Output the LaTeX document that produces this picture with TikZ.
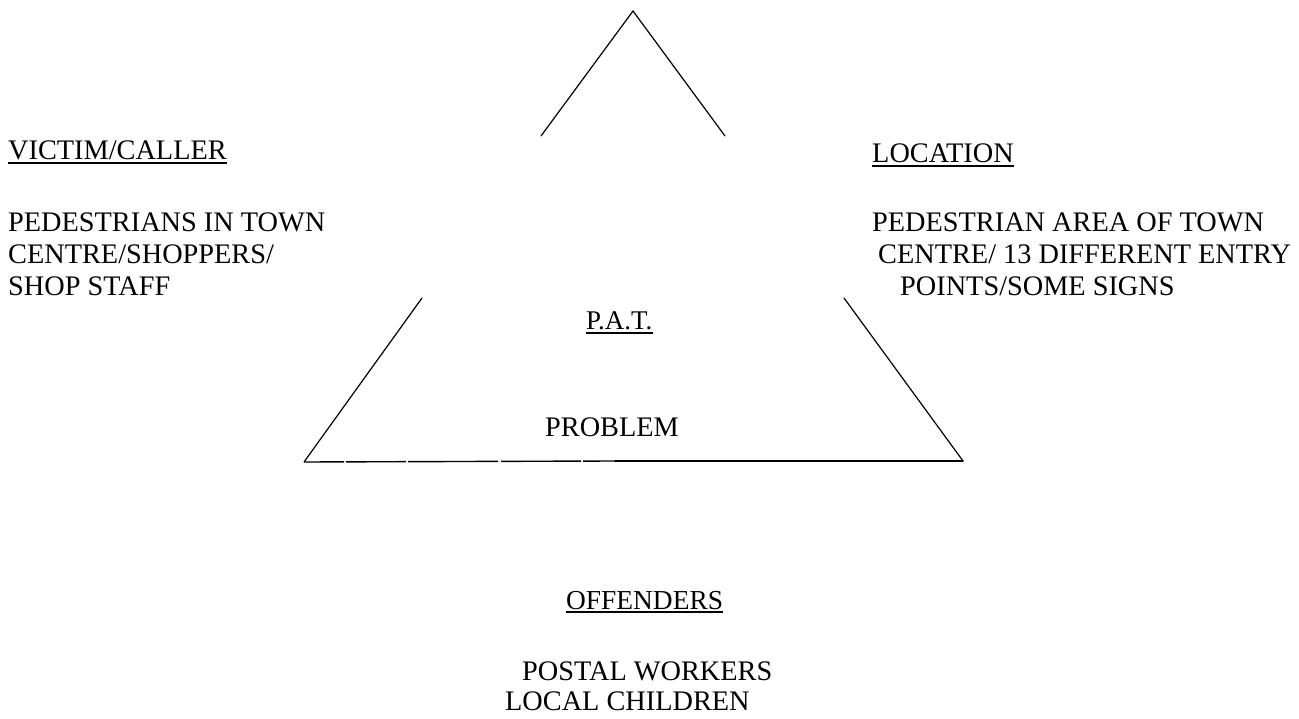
\documentclass[tikz,border=0pt]{standalone}
\usepackage{fontspec}
\setmainfont{Liberation Serif}
\begin{document}
\begin{tikzpicture}[x=1pt,y=-1pt,
  txt/.style={anchor=base west,inner sep=0pt,font=\fontsize{28.3}{32}\selectfont},
  ttl/.style={txt},
  uline/.style={line width=1.6pt},
  tri/.style={line width=1.2pt,line cap=round}]
\useasboundingbox (0,0) rectangle (1299,719);
% triangle (broken sides)
\coordinate (apex) at (633,11);
\coordinate (ul) at (541,136);
\coordinate (ur) at (725,136);
\coordinate (ll) at (422,298);
\coordinate (lr) at (844,298);
\coordinate (bl) at (304,462);
\coordinate (br) at (963,461);
\coordinate (bm) at (615,461);
\draw[tri] (ul) -- (apex) -- (ur);
\draw[tri] (ll) -- (bl);
\draw[tri] (lr) -- (br);
\draw[tri,line width=1.5pt] (bm) -- (br);
\draw[line width=1.4pt,dash pattern=on 40pt off 2pt on 60pt off 2pt on 90pt off 3pt on 80pt off 2pt] (bl) -- (bm);
% left
\node[ttl] (vc) at (8,160) {VICTIM/CALLER};
\draw[uline] ([yshift=-3pt]vc.base west) -- ([yshift=-3pt]vc.base east);
\node[txt] (v1) at (8,232) {PEDESTRIANS IN TOWN};
\node[txt] (v2) at (8,264) {CENTRE/SHOPPERS/};
\node[txt] (v3) at (8,296) {SHOP STAFF};
% right
\node[ttl] (loc) at (872,163) {LOCATION};
\draw[uline] ([yshift=-3pt]loc.base west) -- ([yshift=-3pt]loc.base east);
\node[txt] (l1) at (872,232) {PEDESTRIAN AREA OF TOWN};
\node[txt] (l2) at (878,264) {CENTRE/ 13 DIFFERENT ENTRY};
\node[txt] (l3) at (900,296) {POINTS/SOME SIGNS};
% centre
\node[txt,font=\fontsize{27}{30}\selectfont] (pat) at (586,330) {P.A.T.};
\draw[uline] ([yshift=-3pt]pat.base west) -- ([yshift=-3pt]pat.base east);
\node[txt] (prob) at (545,436) {PROBLEM};
% bottom
\node[ttl,font=\fontsize{27.4}{30}\selectfont] (off) at (566,609) {OFFENDERS};
\draw[uline] ([yshift=-3pt]off.base west) -- ([yshift=-3pt]off.base east);
\node[txt] (o1) at (522,680) {POSTAL WORKERS};
\node[txt] (o2) at (505,710) {LOCAL CHILDREN};
\end{tikzpicture}
\end{document}
